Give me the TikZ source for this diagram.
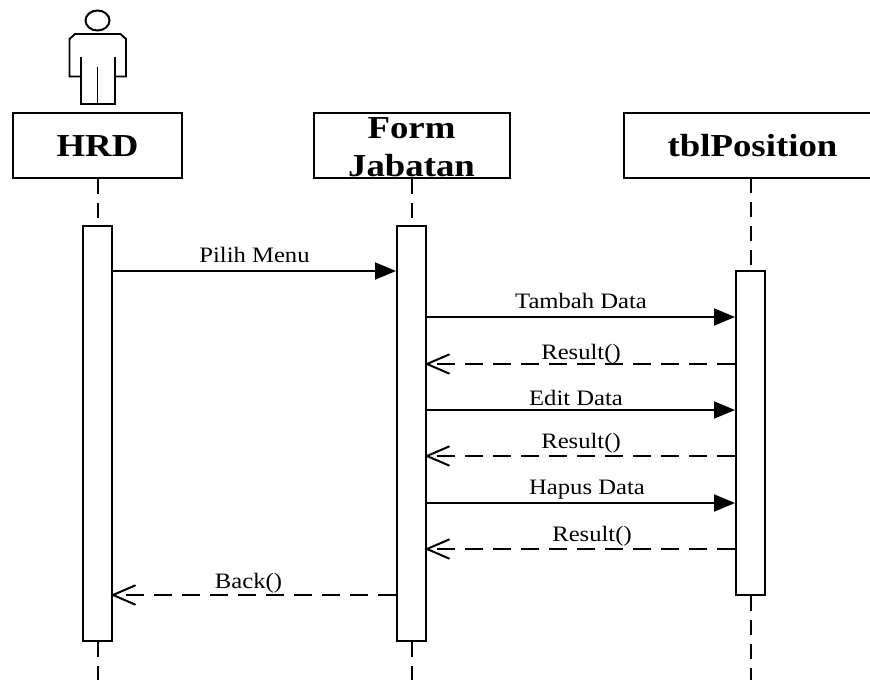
\documentclass[tikz,border=0pt]{standalone}
\usepackage{fontspec}
\setmainfont{Liberation Serif}
\newfontfamily\ttlfont[FakeStretch=1.15]{Liberation Serif}
\newfontfamily\msgfont[FakeStretch=1.12]{Liberation Serif}
\usetikzlibrary{arrows.meta,shapes.geometric}
\tikzset{
  x=1pt,y=-1pt,
  line/.style={line width=1.9pt,black},
  titlebox/.style={draw,line width=2pt,fill=white,minimum height=65pt,inner sep=0pt},
  titletext/.style={inner sep=0pt,align=center,font=\ttlfont\bfseries\fontsize{32}{38}\selectfont},
  actbar/.style={draw,line width=2pt,fill=white,minimum width=29pt,inner sep=0pt},
  lifeln/.style={line width=2pt,dash pattern=on 15pt off 9pt},
  callmsg/.style={line,-{Triangle[length=21pt,width=17pt]}},
  retmsg/.style={line,dash pattern=on 18pt off 10pt},
  openhead/.style={line width=2pt,line cap=round},
  msglabel/.style={font=\msgfont\fontsize{22}{24}\selectfont,inner sep=0pt,anchor=base},
}
\begin{document}
\begin{tikzpicture}
\useasboundingbox (0,0) rectangle (870,680);
% actor
\node[draw,ellipse,line width=2pt,minimum width=24pt,minimum height=20pt,inner sep=0pt] (head) at (97.5,20.5) {};
\draw[line,line join=miter] (81,76.5) -- (69.5,76.5) -- (69.5,39) -- (75,34) -- (120.5,34) -- (126,39) -- (126,76.5) -- (115,76.5);
\draw[line] (81,57) -- (81,104) -- (115,104) -- (115,57);
\draw[line] (97.5,66.5) -- (97.5,104);
% heads of lifelines
\node[titlebox,minimum width=169pt] (hrd) at (97.5,145.5) {};
\node[titlebox,minimum width=196pt] (form) at (411.5,145.5) {};
\node[titlebox,minimum width=256pt] (tbl) at (752,145.5) {};
\node[titletext] (hrdt) at (97.5,146.5) {HRD};
\node[titletext] (formt) at (411.5,147.5) {Form\\Jabatan};
\node[titletext] (tblt) at (752.5,146) {tblPosition};
% activations
\node[actbar,minimum height=415pt] (ah) at (97.5,433.5) {};
\node[actbar,minimum height=415pt] (af) at (411.5,433.5) {};
\node[actbar,minimum height=324pt] (at) at (750.5,433) {};
% free ends
\coordinate (eh) at (97.5,680);
\coordinate (ef) at (411.5,680);
\coordinate (et) at (750.5,680);
\coordinate (tb) at (750.5,178);
% lifelines
\draw[lifeln] (hrd.south) -- (ah.north);
\draw[lifeln] (form.south) -- (af.north);
\draw[lifeln] (tb) -- (at.north);
\draw[lifeln] (ah.south) -- (eh);
\draw[lifeln] (af.south) -- (ef);
\draw[lifeln] (at.south) -- (et);
% message levels
\coordinate (m1) at (0,271);
\coordinate (m2) at (0,317);
\coordinate (m3) at (0,364);
\coordinate (m4) at (0,410);
\coordinate (m5) at (0,456);
\coordinate (m6) at (0,503);
\coordinate (m7) at (0,549);
\coordinate (m8) at (0,595);
% calls
\draw[callmsg] (ah.east |- m1) -- (af.west |- m1);
\draw[callmsg] (af.east |- m2) -- (at.west |- m2);
\draw[callmsg] (af.east |- m4) -- (at.west |- m4);
\draw[callmsg] (af.east |- m6) -- (at.west |- m6);
% returns
\draw[retmsg] (at.west |- m3) -- (af.east |- m3);
\draw[retmsg] (at.west |- m5) -- (af.east |- m5);
\draw[retmsg] (at.west |- m7) -- (af.east |- m7);
\draw[retmsg] (af.west |- m8) -- (ah.east |- m8);
\draw[openhead] ([shift={(22,-9.5)}]af.east |- m3) -- (af.east |- m3) -- ([shift={(22,9.5)}]af.east |- m3);
\draw[openhead] ([shift={(22,-9.5)}]af.east |- m5) -- (af.east |- m5) -- ([shift={(22,9.5)}]af.east |- m5);
\draw[openhead] ([shift={(22,-9.5)}]af.east |- m7) -- (af.east |- m7) -- ([shift={(22,9.5)}]af.east |- m7);
\draw[openhead] ([shift={(22,-9.5)}]ah.east |- m8) -- (ah.east |- m8) -- ([shift={(22,9.5)}]ah.east |- m8);
% labels
\node[msglabel] (l1) at (254.5,262) {Pilih Menu};
\node[msglabel] (l2) at (581,308.5) {Tambah Data};
\node[msglabel] (l3) at (581,359.5) {Result()};
\node[msglabel] (l4) at (576,405.5) {Edit Data};
\node[msglabel] (l5) at (581,448.5) {Result()};
\node[msglabel] (l6) at (587,494) {Hapus Data};
\node[msglabel] (l7) at (592,541) {Result()};
\node[msglabel] (l8) at (248.5,588.5) {Back()};
\end{tikzpicture}
\end{document}
